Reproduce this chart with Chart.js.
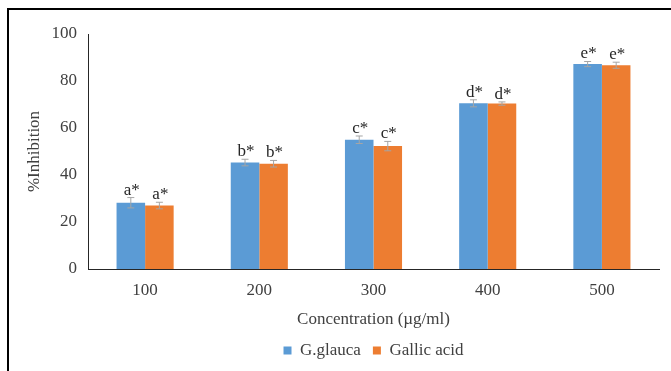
<!DOCTYPE html>
<html>
<head>
<meta charset="utf-8">
<script src="https://cdn.jsdelivr.net/npm/chart.js@4.4.1/dist/chart.umd.min.js"></script>
<style>
  html, body { margin: 0; padding: 0; background: #fff; }
  #wrap { position: relative; width: 671px; height: 371px; overflow: hidden; }
  #frame {
    position: absolute; left: 7px; top: 8px; width: 700px; height: 400px;
    border-left: 2px solid #000; border-top: 2px solid #000;
  }
  canvas { position: absolute; left: 0; top: 0; }
</style>
</head>
<body>
<div id="wrap">
  <div id="frame"></div>
  <canvas id="chart" width="671" height="371"></canvas>
</div>
<script>
/* ---------------- data ---------------- */
const concentrations = ['100', '200', '300', '400', '500'];
const glaucaValues = [28.2, 45.3, 55.0, 70.5, 87.2];
const glaucaErrors = [2.2, 1.4, 1.6, 1.5, 1.1];
const gallicValues = [27.0, 44.8, 52.3, 70.4, 86.7];
const gallicErrors = [1.4, 1.4, 2.0, 0.7, 1.3];
const groupLetters = ['a*', 'b*', 'c*', 'd*', 'e*'];
const yTicks = [0, 20, 40, 60, 80, 100];

const SERIF = "'Liberation Serif', 'Times New Roman', serif";
const FS = 17;
Chart.defaults.font.family = SERIF;
Chart.defaults.font.size = FS;
Chart.defaults.color = '#404040';

/* ---------------- error bars + letter labels ---------------- */
const errorBarPlugin = {
  id: 'errorBars',
  afterDatasetsDraw(chart) {
    const ctx = chart.ctx;
    const y = chart.scales.y;
    const errs = [glaucaErrors, gallicErrors];
    ctx.save();
    chart.data.datasets.forEach((ds, di) => {
      const meta = chart.getDatasetMeta(di);
      meta.data.forEach((bar, i) => {
        const v = ds.data[i];
        const e = errs[di][i];
        const top = y.getPixelForValue(v + e);
        const bot = y.getPixelForValue(v - e);
        const x = bar.x;
        ctx.strokeStyle = '#a5a5a5';
        ctx.lineWidth = 1;
        ctx.beginPath();
        ctx.moveTo(x, top); ctx.lineTo(x, bot);
        ctx.moveTo(x - 3.5, top); ctx.lineTo(x + 3.5, top);
        ctx.moveTo(x - 3.5, bot); ctx.lineTo(x + 3.5, bot);
        ctx.stroke();
        ctx.fillStyle = '#262626';
        ctx.font = FS + 'px ' + SERIF;
        ctx.textAlign = 'center';
        ctx.textBaseline = 'alphabetic';
        ctx.fillText(groupLetters[i], x + 1, top - 3);
      });
    });
    ctx.restore();
  }
};

new Chart(document.getElementById('chart'), {
  type: 'bar',
  data: {
    labels: concentrations,
    datasets: [
      { label: 'G.glauca', data: glaucaValues, backgroundColor: '#5b9bd5', borderWidth: 0 },
      { label: 'Gallic acid', data: gallicValues, backgroundColor: '#ed7d31', borderWidth: 0 }
    ]
  },
  options: {
    responsive: false,
    animation: false,
    devicePixelRatio: 1,
    layout: { padding: { top: 34, right: 12, left: 0, bottom: 2 } },
    datasets: { bar: { categoryPercentage: 0.5, barPercentage: 1 } },
    plugins: {
      legend: {
        position: 'bottom',
        fullSize: false,
        labels: {
          font: { family: SERIF, size: FS },
          color: '#404040',
          boxWidth: 8,
          boxHeight: 8,
          padding: 12
        }
      },
      tooltip: { enabled: false }
    },
    scales: {
      x: {
        grid: { display: false, drawTicks: false },
        border: { color: '#262626', width: 1 },
        ticks: { font: { family: SERIF, size: FS }, color: '#404040', padding: 11 },
        title: {
          display: true,
          text: 'Concentration (µg/ml)',
          font: { family: SERIF, size: FS },
          color: '#404040',
          padding: { top: 2, bottom: 0 }
        },
        afterFit(scale) { scale.height = 61; }
      },
      y: {
        min: 0,
        max: 100,
        afterBuildTicks(scale) { scale.ticks = yTicks.map(v => ({ value: v })); },
        grid: { display: false, drawTicks: false },
        border: { color: '#262626', width: 1 },
        ticks: { font: { family: SERIF, size: FS }, color: '#404040', padding: 11 },
        title: {
          display: true,
          text: '%Inhibition',
          font: { family: SERIF, size: FS },
          color: '#404040',
          padding: { top: 24, bottom: 0 }
        },
        afterFit(scale) { scale.width = 88; }
      }
    }
  },
  plugins: [errorBarPlugin]
});
</script>
</body>
</html>
